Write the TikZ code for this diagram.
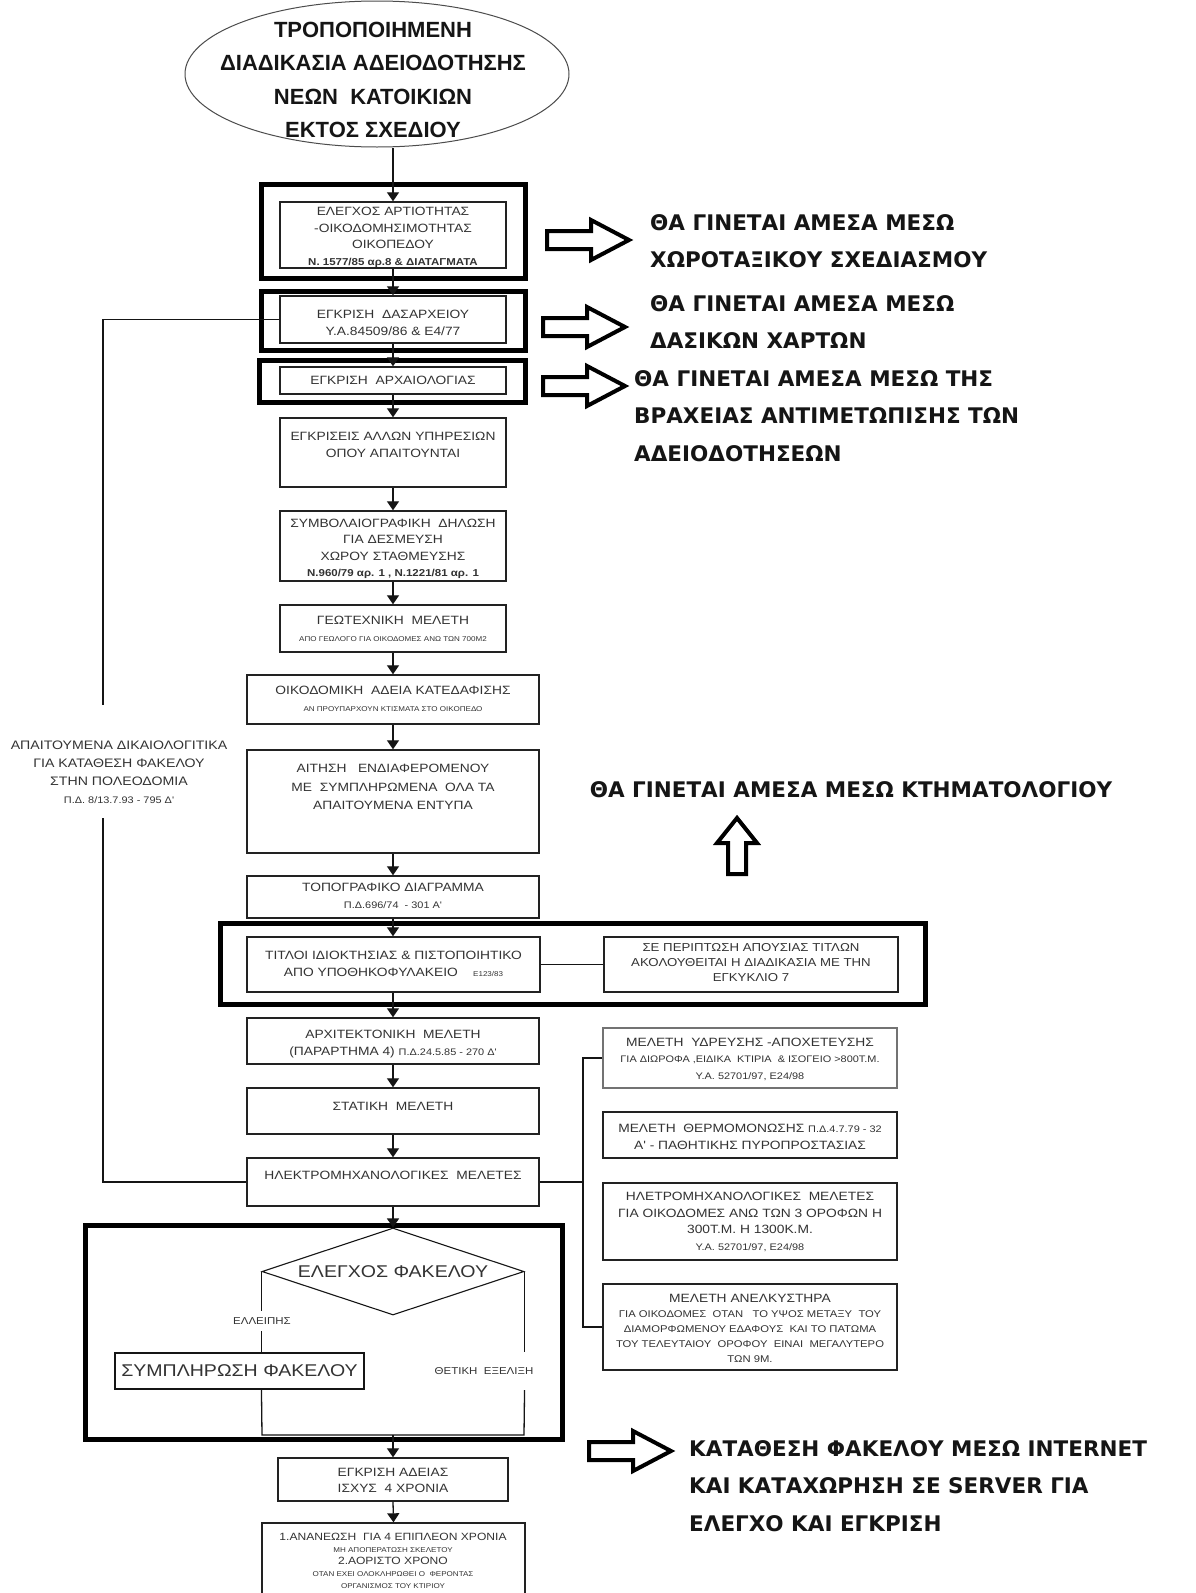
\documentclass[tikz,border=0pt]{standalone}
\usepackage{fontspec}
\setmainfont{Liberation Sans}
\newfontfamily\boxfont{Liberation Sans}[FakeStretch=1.15]
\newfontfamily\notefont{DejaVu Sans}
\usetikzlibrary{arrows.meta,shapes.geometric}

\definecolor{ink}{HTML}{151515}
\definecolor{boxtext}{HTML}{333333}
\definecolor{boxline}{HTML}{222222}

\newcommand\fsNorm{\fontsize{12}{16.5}\selectfont}
\newcommand\fsSmall{\fontsize{9.5}{14}\selectfont}
\newcommand\fsSmallB{\fontsize{10}{14}\selectfont\bfseries}
\newcommand\fsTiny{\fontsize{7}{9}\selectfont}

\tikzset{
  stage/.style={rectangle,draw=boxline,line width=1.4pt,inner sep=0pt},
  frame/.style={draw=black,line width=4.5pt},
  boxtxt/.style={text=boxtext,align=center,inner sep=0pt,font=\boxfont\fsNorm},
  link/.style={draw=ink,line width=1.3pt},
  arr/.style={link,-{Triangle[width=12pt,length=9pt]}},
  note/.style={font=\notefont\bfseries\fontsize{21.5}{37.5}\selectfont,text=ink,
    align=left,inner sep=0pt,anchor=west},
  hollow/.style={draw=black,line width=4pt,fill=white,line join=miter},
  rightblock/.pic={\draw[hollow] (0,-9) -- (44,-9) -- (44,-20) -- (82,0) -- (44,20)
    -- (44,9) -- (0,9) -- cycle;},
  upblock/.pic={\draw[hollow] (-9,0) -- (-9,-31) -- (-20,-31) -- (0,-56) -- (20,-31)
    -- (9,-31) -- (9,0) -- cycle;},
}

\begin{document}
\begin{tikzpicture}[x=1pt,y=-1pt]
\useasboundingbox (0,0) rectangle (1195,1593);
\fill[white] (0,0) rectangle (1195,1593);
\clip (0,0) rectangle (1195,1593);

% title ellipse
\node[ellipse,draw=black!70,line width=1pt,minimum width=384,minimum height=146,inner sep=0pt]
  (title) at (377,74) {};
\node[font=\bfseries\fontsize{22}{33.5}\selectfont,text=ink,align=center,inner sep=0pt]
  (titletxt) at (373,80) {ΤΡΟΠΟΠΟΙΗΜΕΝΗ\\ΔΙΑΔΙΚΑΣΙΑ ΑΔΕΙΟΔΟΤΗΣΗΣ\\ΝΕΩΝ~~ΚΑΤΟΙΚΙΩΝ\\ΕΚΤΟΣ ΣΧΕΔΙΟΥ};

% thick group frames
\draw[frame] (261.5,184.5) rectangle (525.5,278.5);
\draw[frame] (261.5,291.5) rectangle (525.5,350.5);
\draw[frame] (259.5,360.5) rectangle (525.5,402.5);
\draw[frame] (220.5,923.5) rectangle (925.5,1004.5);
\draw[frame] (85.5,1225.5) rectangle (562.5,1439.5);

% main column boxes
\node[stage,minimum width=226,minimum height=66] (b1) at (393,235) {};
\node[boxtxt] (b1t) at (393,237.5) {ΕΛΕΓΧΟΣ ΑΡΤΙΟΤΗΤΑΣ\\-ΟΙΚΟΔΟΜΗΣΙΜΟΤΗΤΑΣ\\ΟΙΚΟΠΕΔΟΥ\\{\fsSmallB Ν. 1577/85 αρ.8 \& ΔΙΑΤΑΓΜΑΤΑ}};

\node[stage,minimum width=226,minimum height=47] (b2) at (393,319.5) {};
\node[boxtxt] (b2t) at (393,323) {ΕΓΚΡΙΣΗ~~ΔΑΣΑΡΧΕΙΟΥ\\Υ.Α.84509/86 \& Ε4/77};

\node[stage,minimum width=226,minimum height=27] (b3) at (393,380.5) {};
\node[boxtxt] (b3t) at (393,380.5) {ΕΓΚΡΙΣΗ~~ΑΡΧΑΙΟΛΟΓΙΑΣ};

\node[stage,minimum width=226,minimum height=69] (b4) at (393,452.5) {};
\node[boxtxt] (b4t) at (393,445) {ΕΓΚΡΙΣΕΙΣ ΑΛΛΩΝ ΥΠΗΡΕΣΙΩΝ\\ΟΠΟΥ ΑΠΑΙΤΟΥΝΤΑΙ};

\node[stage,minimum width=226,minimum height=70] (b5) at (393,546) {};
\node[boxtxt] (b5t) at (393,549) {ΣΥΜΒΟΛΑΙΟΓΡΑΦΙΚΗ~~ΔΗΛΩΣΗ\\ΓΙΑ ΔΕΣΜΕΥΣΗ\\ΧΩΡΟΥ ΣΤΑΘΜΕΥΣΗΣ\\{\fsSmallB Ν.960/79 αρ. 1 , Ν.1221/81 αρ. 1}};

\node[stage,minimum width=226,minimum height=47] (b6) at (393,628.5) {};
\node[boxtxt] (b6t) at (393,629) {ΓΕΩΤΕΧΝΙΚΗ~~ΜΕΛΕΤΗ\\{\fsTiny ΑΠΟ ΓΕΩΛΟΓΟ ΓΙΑ ΟΙΚΟΔΟΜΕΣ ΑΝΩ ΤΩΝ 700Μ2}};

\node[stage,minimum width=292,minimum height=49] (b7) at (393,699.5) {};
\node[boxtxt] (b7t) at (393,699) {ΟΙΚΟΔΟΜΙΚΗ~~ΑΔΕΙΑ ΚΑΤΕΔΑΦΙΣΗΣ\\{\fsTiny ΑΝ ΠΡΟΥΠΑΡΧΟΥΝ ΚΤΙΣΜΑΤΑ ΣΤΟ ΟΙΚΟΠΕΔΟ}};

\node[stage,minimum width=292,minimum height=103] (b8) at (393,801.5) {};
\node[boxtxt,font=\boxfont\fontsize{12}{18.5}\selectfont] (b8t) at (393,787)
  {ΑΙΤΗΣΗ~~~ΕΝΔΙΑΦΕΡΟΜΕΝΟΥ\\ΜΕ~~ΣΥΜΠΛΗΡΩΜΕΝΑ~~ΟΛΑ ΤΑ\\ΑΠΑΙΤΟΥΜΕΝΑ ΕΝΤΥΠΑ};

\node[stage,minimum width=292,minimum height=42] (b9) at (393,897) {};
\node[boxtxt] (b9t) at (393,896) {ΤΟΠΟΓΡΑΦΙΚΟ ΔΙΑΓΡΑΜΜΑ\\{\fsSmall Π.Δ.696/74~~- 301 Α'}};

\node[stage,minimum width=293,minimum height=55] (b10a) at (393.5,964.5) {};
\node[boxtxt] (b10at) at (393.5,964) {ΤΙΤΛΟΙ ΙΔΙΟΚΤΗΣΙΑΣ \& ΠΙΣΤΟΠΟΙΗΤΙΚΟ\\ΑΠΟ ΥΠΟΘΗΚΟΦΥΛΑΚΕΙΟ~~~~{\fsTiny Ε123/83}};

\node[stage,minimum width=294,minimum height=55] (b10b) at (751,964.5) {};
\node[boxtxt,font=\boxfont\fontsize{11.5}{15}\selectfont] (b10bt) at (751,963)
  {ΣΕ ΠΕΡΙΠΤΩΣΗ ΑΠΟΥΣΙΑΣ ΤΙΤΛΩΝ\\ΑΚΟΛΟΥΘΕΙΤΑΙ Η ΔΙΑΔΙΚΑΣΙΑ ΜΕ ΤΗΝ\\ΕΓΚΥΚΛΙΟ 7};

\node[stage,minimum width=292,minimum height=46] (b11) at (393,1041) {};
\node[boxtxt] (b11t) at (393,1044) {ΑΡΧΙΤΕΚΤΟΝΙΚΗ~~ΜΕΛΕΤΗ\\(ΠΑΡΑΡΤΗΜΑ 4) {\fsSmall Π.Δ.24.5.85 - 270 Δ'}};

\node[stage,minimum width=292,minimum height=46] (b12) at (393,1111) {};
\node[boxtxt] (b12t) at (393,1106) {ΣΤΑΤΙΚΗ~~ΜΕΛΕΤΗ};

\node[stage,minimum width=292,minimum height=48] (b13) at (393,1182) {};
\node[boxtxt] (b13t) at (393,1175) {ΗΛΕΚΤΡΟΜΗΧΑΝΟΛΟΓΙΚΕΣ~~ΜΕΛΕΤΕΣ};

% side studies
\node[stage,draw=black!55,minimum width=294,minimum height=60] (r1) at (750,1058) {};
\node[boxtxt] (r1t) at (750,1059) {ΜΕΛΕΤΗ~~ΥΔΡΕΥΣΗΣ -ΑΠΟΧΕΤΕΥΣΗΣ\\{\fsSmall ΓΙΑ ΔΙΩΡΟΦΑ ,ΕΙΔΙΚΑ~~ΚΤΙΡΙΑ~~\& ΙΣΟΓΕΙΟ >800Τ.Μ.}\\{\fsSmall Υ.Α. 52701/97, Ε24/98}};

\node[stage,minimum width=294,minimum height=46] (r2) at (750,1135) {};
\node[boxtxt] (r2t) at (750,1137) {ΜΕΛΕΤΗ~~ΘΕΡΜΟΜΟΝΩΣΗΣ {\fsSmall Π.Δ.4.7.79 - 32}\\Α' - ΠΑΘΗΤΙΚΗΣ ΠΥΡΟΠΡΟΣΤΑΣΙΑΣ};

\node[stage,minimum width=294,minimum height=77] (r3) at (750,1221.5) {};
\node[boxtxt] (r3t) at (750,1222) {ΗΛΕΤΡΟΜΗΧΑΝΟΛΟΓΙΚΕΣ~~ΜΕΛΕΤΕΣ\\ΓΙΑ ΟΙΚΟΔΟΜΕΣ ΑΝΩ ΤΩΝ 3 ΟΡΟΦΩΝ Η\\300Τ.Μ. Η 1300Κ.Μ.\\{\fsSmall Υ.Α. 52701/97, Ε24/98}};

\node[stage,minimum width=294,minimum height=86] (r4) at (750,1327) {};
\node[boxtxt,font=\boxfont\fontsize{9.8}{15}\selectfont] (r4t) at (750,1328)
  {{\fsNorm ΜΕΛΕΤΗ ΑΝΕΛΚΥΣΤΗΡΑ}\\ΓΙΑ ΟΙΚΟΔΟΜΕΣ~~ΟΤΑΝ~~~ΤΟ ΥΨΟΣ ΜΕΤΑΞΥ~~ΤΟΥ\\ΔΙΑΜΟΡΦΩΜΕΝΟΥ ΕΔΑΦΟΥΣ~~ΚΑΙ ΤΟ ΠΑΤΩΜΑ\\ΤΟΥ ΤΕΛΕΥΤΑΙΟΥ~~ΟΡΟΦΟΥ~~ΕΙΝΑΙ~~ΜΕΓΑΛΥΤΕΡΟ\\ΤΩΝ 9Μ.};

% documents note on the left
\node[boxtxt,font=\boxfont\fontsize{12.3}{18}\selectfont] (req) at (119,772)
  {ΑΠΑΙΤΟΥΜΕΝΑ ΔΙΚΑΙΟΛΟΓΙΤΙΚΑ\\ΓΙΑ ΚΑΤΑΘΕΣΗ ΦΑΚΕΛΟΥ\\ΣΤΗΝ ΠΟΛΕΟΔΟΜΙΑ\\{\fsSmall Π.Δ. 8/13.7.93 - 795 Δ'}};
\coordinate (lx) at (103,0);
\coordinate (gapT) at (103,705);
\coordinate (gapB) at (103,818);
\coordinate (rx) at (583,0);

% file check
\node[diamond,draw=ink,line width=1.1pt,aspect=3,inner sep=0pt,minimum width=262,
  minimum height=87,text=boxtext,font=\boxfont\fontsize{17}{20}\selectfont]
  (dia) at (393,1271.5) {ΕΛΕΓΧΟΣ ΦΑΚΕΛΟΥ};
\node[boxtxt,font=\boxfont\fontsize{10}{12}\selectfont,minimum height=20] (elle) at (262,1321) {ΕΛΛΕΙΠΗΣ};
\node[stage,line width=1.6pt,draw=ink,minimum width=249,minimum height=36,text=boxtext,
  font=\boxfont\fontsize{17}{20}\selectfont] (sym) at (239.5,1371) {ΣΥΜΠΛΗΡΩΣΗ ΦΑΚΕΛΟΥ};
\node[boxtxt,font=\boxfont\fontsize{10}{12}\selectfont,minimum height=38] (thet) at (484,1371) {ΘΕΤΙΚΗ~~ΕΞΕΛΙΞΗ};
\coordinate (jl) at (262,1435);
\coordinate (jr) at (524,1435);
\coordinate (jm) at (393,1435);

% approval and renewal
\node[stage,minimum width=230,minimum height=43] (egk) at (393,1479.5) {};
\node[boxtxt] (egkt) at (393,1480.5) {ΕΓΚΡΙΣΗ ΑΔΕΙΑΣ\\ΙΣΧΥΣ~~4 ΧΡΟΝΙΑ};
\node[stage,minimum width=263,minimum height=100] (last) at (393.5,1573) {};
\node[boxtxt,font=\boxfont\fontsize{10.5}{12}\selectfont,anchor=north] (lastt) at (393,1533)
  {1.ΑΝΑΝΕΩΣΗ~~ΓΙΑ 4 ΕΠΙΠΛΕΟΝ ΧΡΟΝΙΑ\\{\fsTiny ΜΗ ΑΠΟΠΕΡΑΤΩΣΗ ΣΚΕΛΕΤΟΥ}\\2.ΑΟΡΙΣΤΟ ΧΡΟΝΟ\\{\fsTiny ΟΤΑΝ ΕΧΕΙ ΟΛΟΚΛΗΡΩΘΕΙ Ο~~ΦΕΡΟΝΤΑΣ}\\{\fsTiny ΟΡΓΑΝΙΣΜΟΣ ΤΟΥ ΚΤΙΡΙΟΥ}};

% main flow
\draw[arr] (b1.north |- title.south) -- (b1.north);
\draw[arr] (b1.south) -- (b2.north);
\draw[arr] (b2.south) -- (b3.north);
\draw[arr] (b3.south) -- (b4.north);
\draw[arr] (b4.south) -- (b5.north);
\draw[arr] (b5.south) -- (b6.north);
\draw[arr] (b6.south) -- (b7.north);
\draw[arr] (b7.south) -- (b8.north);
\draw[arr] (b8.south) -- (b9.north);
\draw[arr] (b9.south) -- (b9.south |- b10a.north);
\draw[link] (b10a.east) -- (b10b.west);
\draw[arr] (b10a.south -| b11.north) -- (b11.north);
\draw[arr] (b11.south) -- (b12.north);
\draw[arr] (b12.south) -- (b13.north);
\draw[arr] (b13.south) -- (dia.north);

% feedback and side branches
\draw[link] (b2.west) -- (b2.west -| lx) -- (gapT);
\draw[link] (gapB) -- (b13.west -| lx) -- (b13.west);
\draw[link] (b13.east) -- (b13.east -| rx);
\draw[link] (r1.west) -- (r1.west -| rx) -- (r4.west -| rx) -- (r4.west);

% check outcomes
\draw[link] (dia.west) -- (dia.west |- elle.north);
\draw[link] (dia.west |- elle.south) -- (dia.west |- sym.north);
\draw[link] (dia.west |- sym.south) -- (jl) -- (jr) -- (dia.east |- thet.south);
\draw[link] (dia.east) -- (dia.east |- thet.north);
\draw[arr] (jm) -- (egk.north);
\draw[arr] (egk.south) -- (last.north);

% remarks on the right
\pic at (547,240) {rightblock};
\node[note] (n1) at (650,241) {ΘΑ ΓΙΝΕΤΑΙ ΑΜΕΣΑ ΜΕΣΩ\\ΧΩΡΟΤΑΞΙΚΟΥ ΣΧΕΔΙΑΣΜΟΥ};
\pic at (543,327) {rightblock};
\node[note] (n2) at (650,322) {ΘΑ ΓΙΝΕΤΑΙ ΑΜΕΣΑ ΜΕΣΩ\\ΔΑΣΙΚΩΝ ΧΑΡΤΩΝ};
\pic at (543,386) {rightblock};
\node[note] (n3) at (634,416) {ΘΑ ΓΙΝΕΤΑΙ ΑΜΕΣΑ ΜΕΣΩ ΤΗΣ\\ΒΡΑΧΕΙΑΣ ΑΝΤΙΜΕΤΩΠΙΣΗΣ ΤΩΝ\\ΑΔΕΙΟΔΟΤΗΣΕΩΝ};
\node[note,anchor=center] (n4) at (851,790) {ΘΑ ΓΙΝΕΤΑΙ ΑΜΕΣΑ ΜΕΣΩ ΚΤΗΜΑΤΟΛΟΓΙΟΥ};
\pic at (737,874) {upblock};
\pic at (589,1451) {rightblock};
\node[note] (n5) at (689,1486) {ΚΑΤΑΘΕΣΗ ΦΑΚΕΛΟΥ ΜΕΣΩ INTERNET\\ΚΑΙ ΚΑΤΑΧΩΡΗΣΗ ΣΕ SERVER ΓΙΑ\\ΕΛΕΓΧΟ ΚΑΙ ΕΓΚΡΙΣΗ};
\end{tikzpicture}
\end{document}
